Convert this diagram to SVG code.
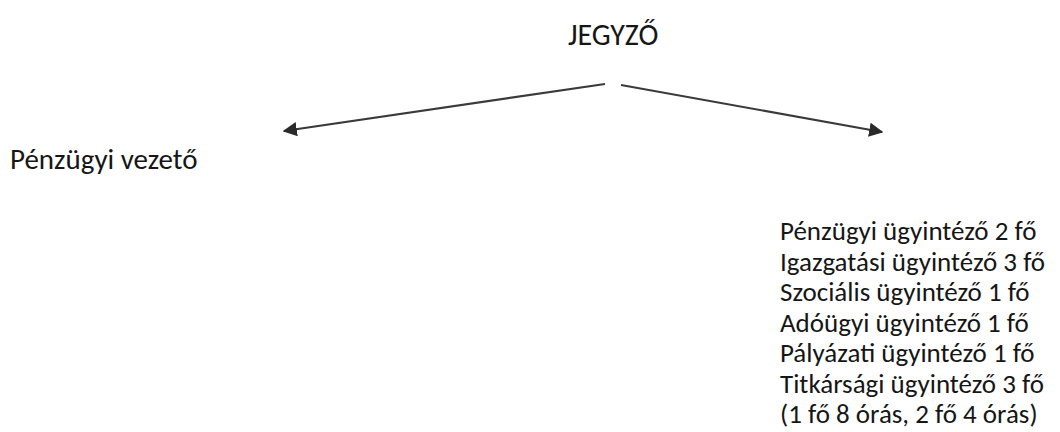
<svg xmlns="http://www.w3.org/2000/svg" width="1060" height="432" viewBox="0 0 1060 432">
<style>
text{font-family:Carlito,Lato,"Open Sans",sans-serif;font-size:27px;fill:#161616}
.ln{stroke:#3a3a3a;stroke-width:2.2;fill:none}
</style>
<defs>
<marker id="ah" viewBox="0 0 10 10" refX="9" refY="5" markerWidth="6.5" markerHeight="6.5" markerUnits="strokeWidth" orient="auto">
<path d="M0,0 L10,5 L0,10 z" fill="#2a2a2a"/>
</marker>
</defs>
<rect width="1060" height="432" fill="#fff"/>
<g id="connectors">
<line class="ln" x1="605" y1="84" x2="284" y2="131" marker-end="url(#ah)"/>
<line class="ln" x1="621" y1="85" x2="882" y2="132" marker-end="url(#ah)"/>
</g>
<g id="jegyzo"><text x="568" y="45" style="font-size:30px">JEGYZŐ</text></g>
<g id="penzugyi-vezeto"><text x="10" y="169" style="font-size:29px">Pénzügyi vezető</text></g>
<g id="ugyintezok">
<text x="780" y="240">Pénzügyi ügyintéző 2 fő</text>
<text x="780" y="270.5">Igazgatási ügyintéző 3 fő</text>
<text x="780" y="301">Szociális ügyintéző 1 fő</text>
<text x="780" y="331.5">Adóügyi ügyintéző 1 fő</text>
<text x="780" y="362">Pályázati ügyintéző 1 fő</text>
<text x="780" y="392.5">Titkársági ügyintéző 3 fő</text>
<text x="780" y="423">(1 fő 8 órás, 2 fő 4 órás)</text>
</g>
</svg>
